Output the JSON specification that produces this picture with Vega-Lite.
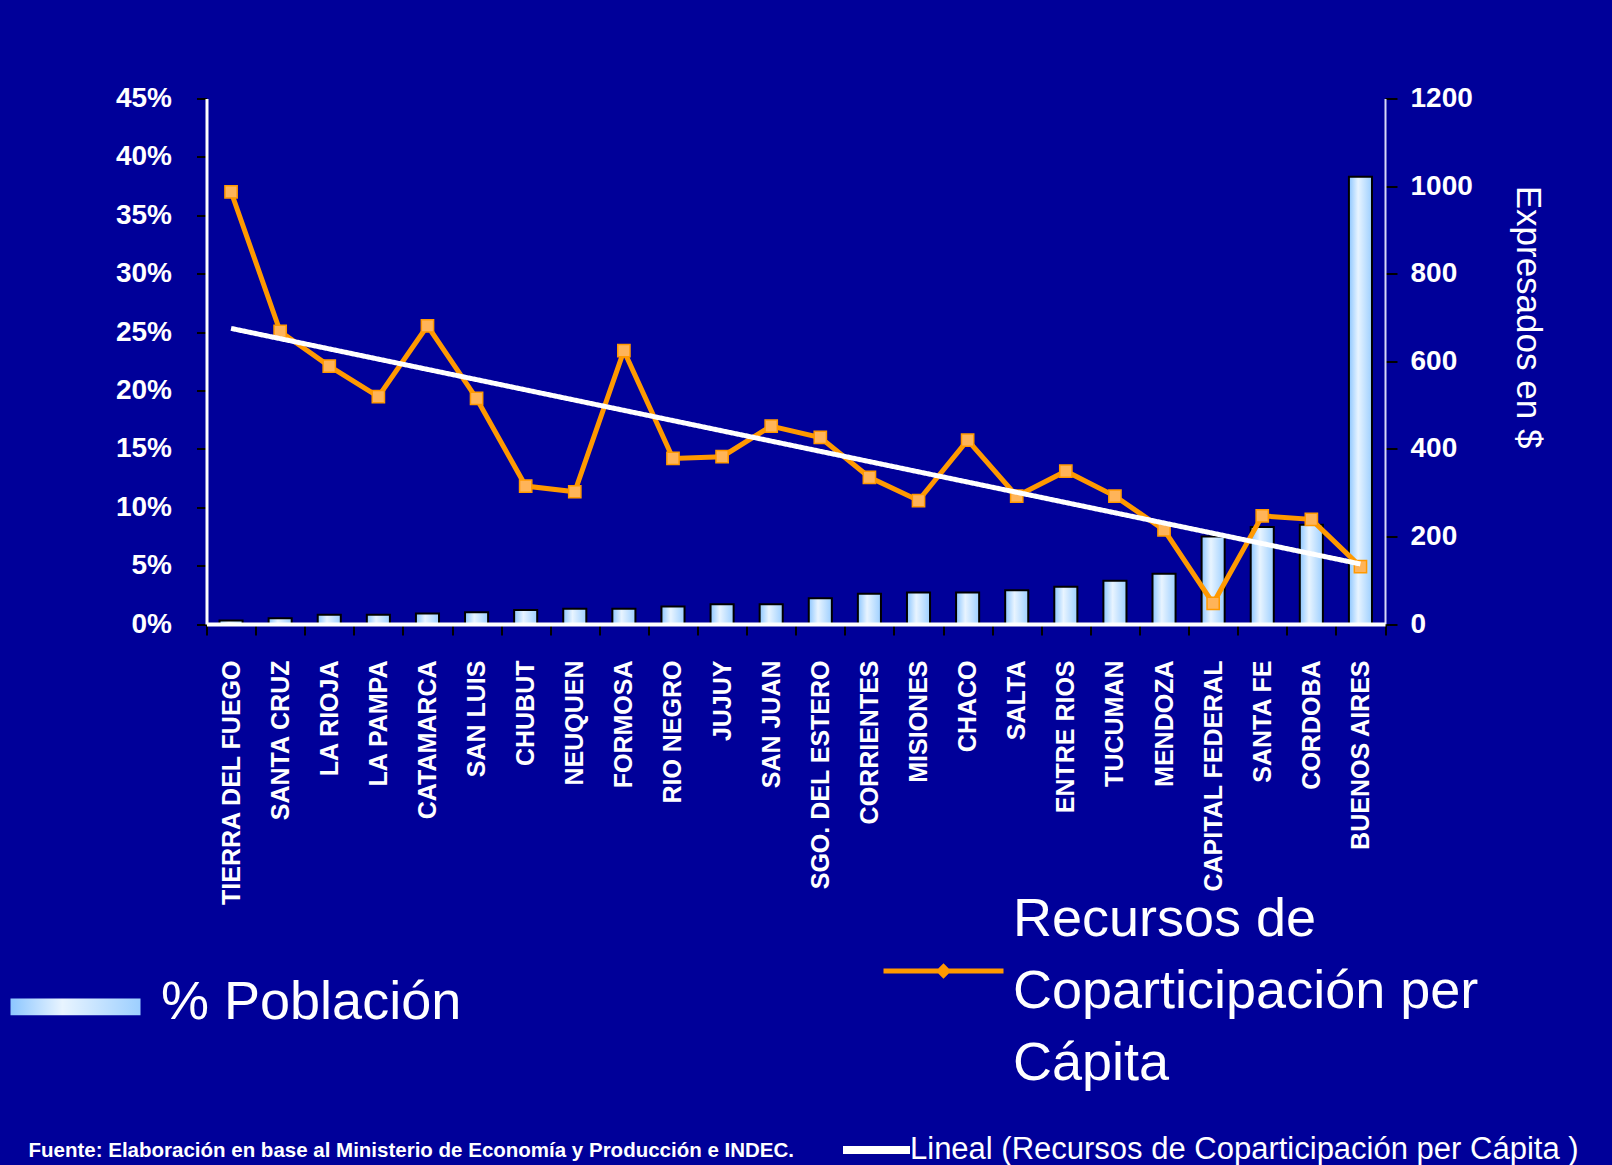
{
  "$schema": "https://vega.github.io/schema/vega-lite/v6.json",
  "width": 1178.5,
  "height": 525.5,
  "autosize": {"type": "none"},
  "padding": {"left": 206.5, "top": 98.5, "right": 227, "bottom": 541},
  "background": "#000099",
  "config": {"view": {"stroke": null}, "style": {"guide-label": {"lineHeight": 72}}},
  "data": {"values": [
    {"provincia": "TIERRA DEL FUEGO", "poblacion": 0.003, "recursos": 987},
    {"provincia": "SANTA CRUZ", "poblacion": 0.005, "recursos": 668},
    {"provincia": "LA RIOJA", "poblacion": 0.008, "recursos": 589},
    {"provincia": "LA PAMPA", "poblacion": 0.008, "recursos": 519},
    {"provincia": "CATAMARCA", "poblacion": 0.009, "recursos": 681},
    {"provincia": "SAN LUIS", "poblacion": 0.010, "recursos": 515},
    {"provincia": "CHUBUT", "poblacion": 0.012, "recursos": 315},
    {"provincia": "NEUQUEN", "poblacion": 0.013, "recursos": 302},
    {"provincia": "FORMOSA", "poblacion": 0.013, "recursos": 624},
    {"provincia": "RIO NEGRO", "poblacion": 0.015, "recursos": 378},
    {"provincia": "JUJUY", "poblacion": 0.017, "recursos": 382},
    {"provincia": "SAN JUAN", "poblacion": 0.017, "recursos": 452},
    {"provincia": "SGO. DEL ESTERO", "poblacion": 0.022, "recursos": 426},
    {"provincia": "CORRIENTES", "poblacion": 0.026, "recursos": 335},
    {"provincia": "MISIONES", "poblacion": 0.027, "recursos": 282},
    {"provincia": "CHACO", "poblacion": 0.027, "recursos": 420},
    {"provincia": "SALTA", "poblacion": 0.029, "recursos": 292},
    {"provincia": "ENTRE RIOS", "poblacion": 0.032, "recursos": 349},
    {"provincia": "TUCUMAN", "poblacion": 0.037, "recursos": 292},
    {"provincia": "MENDOZA", "poblacion": 0.043, "recursos": 215},
    {"provincia": "CAPITAL FEDERAL", "poblacion": 0.075, "recursos": 47},
    {"provincia": "SANTA FE", "poblacion": 0.083, "recursos": 247},
    {"provincia": "CORDOBA", "poblacion": 0.085, "recursos": 239},
    {"provincia": "BUENOS AIRES", "poblacion": 0.383, "recursos": 131}
  ]},
  "encoding": {
    "x": {
      "field": "provincia", "type": "nominal",
      "scale": {
        "domain": ["TIERRA DEL FUEGO", "SANTA CRUZ", "LA RIOJA", "LA PAMPA", "CATAMARCA", "SAN LUIS", "CHUBUT", "NEUQUEN", "FORMOSA", "RIO NEGRO", "JUJUY", "SAN JUAN", "SGO. DEL ESTERO", "CORRIENTES", "MISIONES", "CHACO", "SALTA", "ENTRE RIOS", "TUCUMAN", "MENDOZA", "CAPITAL FEDERAL", "SANTA FE", "CORDOBA", "BUENOS AIRES"],
        "paddingInner": 0, "paddingOuter": 0
      },
      "axis": {
        "title": null, "labelAngle": -90, "labelAlign": "right", "labelBaseline": "middle",
        "labelColor": "white", "labelFont": "Liberation Sans", "labelFontWeight": "bold",
        "labelFontSize": 25, "labelPadding": 25, "labelLimit": 400, "labelOverlap": false,
        "tickSize": 11, "tickColor": "black", "tickWidth": 2, "tickBand": "extent",
        "domainColor": "white", "domainWidth": 4, "zindex": 1
      }
    }
  },
  "layer": [
    {
      "mark": {
        "type": "bar", "width": {"band": 0.47}, "stroke": "black", "strokeWidth": 2,
        "fill": {"gradient": "linear", "x1": 0, "y1": 0, "x2": 1, "y2": 0, "stops": [{"offset": 0, "color": "#8cc6ff"}, {"offset": 0.4, "color": "#e8f4ff"}, {"offset": 1, "color": "#9dcfff"}]}
      },
      "encoding": {
        "y": {
          "field": "poblacion", "type": "quantitative",
          "scale": {"domain": [0, 0.45], "nice": false},
          "axis": {
            "orient": "left", "values": [0, 0.05, 0.1, 0.15, 0.2, 0.25, 0.3, 0.35, 0.4, 0.45],
            "format": ".0%", "title": null, "grid": false,
            "labelColor": "white", "labelFont": "Liberation Sans",
            "labelFontWeight": "bold", "labelFontSize": 28, "labelPadding": 25,
            "tickSize": 10, "tickColor": "black", "tickWidth": 2,
            "domainColor": "white", "domainWidth": 3, "zindex": 1
          }
        },
        "opacity": {
          "datum": "% Población", "type": "nominal",
          "scale": {"range": [1, 1]},
          "legend": {
            "orient": "none", "legendX": -196, "legendY": 839.5, "title": null, "padding": 0,
            "symbolType": "M-1,-0.07H1V0.19H-1Z", "symbolSize": 16900, "symbolStrokeWidth": 0,
            "labelFont": "Liberation Sans",
            "labelFontSize": 54, "labelColor": "white", "labelOffset": 20.5, "labelLimit": 1000
          }
        }
      }
    },
    {
      "layer": [
        {
          "mark": {"type": "line", "strokeWidth": 5},
          "encoding": {
            "y": {
              "field": "recursos", "type": "quantitative",
              "scale": {"domain": [0, 1200], "nice": false},
              "axis": {
                "orient": "right", "values": [0, 200, 400, 600, 800, 1000, 1200], "format": "d", "grid": false,
                "title": "Expresados en $", "titleColor": "white", "titleFont": "Liberation Sans",
                "titleFontWeight": "normal", "titleFontSize": 35, "titleAngle": 90,
                "titleX": 142, "titleY": 218, "titleAlign": "center", "titleBaseline": "middle",
                "labelColor": "white", "labelFont": "Liberation Sans",
                "labelFontWeight": "bold", "labelFontSize": 28, "labelPadding": 13,
                "tickSize": 12, "tickColor": "black", "tickWidth": 2,
                "domainColor": "#d8d8f8", "domainWidth": 2
              }
            },
            "color": {
              "datum": "Recursos de Coparticipación per Cápita", "type": "nominal",
              "scale": {"range": ["#ff9900"]},
              "legend": {
                "orient": "none", "legendX": 674.5, "legendY": 758.5, "title": null, "padding": 0,
                "symbolType": "M-1,0.858L1,0.858M-0.07,0.858L0,0.788L0.07,0.858L0,0.928Z",
                "symbolSize": 14400, "symbolStrokeWidth": 5,
                "labelFont": "Liberation Sans",
                "labelFontSize": 54, "labelColor": "white", "labelOffset": 7, "labelLimit": 1000,
                "labelExpr": "[slice(datum.label,0,11), slice(datum.label,12,31), slice(datum.label,32)]"
              }
            }
          }
        },
        {
          "mark": {"type": "point", "filled": true, "size": 150, "fill": "#ffb459", "stroke": "#ff9900", "strokeWidth": 1.5, "opacity": 1},
          "encoding": {
            "y": {"field": "recursos", "type": "quantitative"},
            "shape": {
              "datum": "Fuente: Elaboración en base al Ministerio de Economía y Producción e INDEC.", "type": "nominal",
              "scale": {"range": ["square"]},
              "legend": {
                "orient": "none", "legendX": -177.5, "legendY": 1042, "title": null, "padding": 0,
                "symbolOpacity": 0, "symbolSize": 0, "symbolStrokeWidth": 0,
                "labelFont": "Liberation Sans", "labelFontWeight": "bold",
                "labelFontSize": 20.5, "labelColor": "white", "labelOffset": -21, "labelLimit": 1000
              }
            }
          }
        },
        {
          "data": {"values": [
            {"provincia": "TIERRA DEL FUEGO", "tendencia": 675},
            {"provincia": "BUENOS AIRES", "tendencia": 137}
          ]},
          "mark": {"type": "line", "color": "white", "strokeWidth": 5},
          "encoding": {
            "y": {"field": "tendencia", "type": "quantitative"},
            "strokeDash": {
              "datum": "Lineal (Recursos de Coparticipación per Cápita )", "type": "nominal",
              "scale": {"range": [[1, 0]]},
              "legend": {
                "orient": "none", "legendX": 632.5, "legendY": 1014, "title": null, "padding": 0,
                "symbolType": "stroke", "symbolSize": 4489, "symbolStrokeWidth": 8,
                "symbolStrokeColor": "white",
                "labelFont": "Liberation Sans",
                "labelFontSize": 31, "labelColor": "white", "labelOffset": -4, "labelLimit": 1000
              }
            }
          }
        }
      ]
    }
  ],
  "resolve": {"scale": {"y": "independent"}}
}
